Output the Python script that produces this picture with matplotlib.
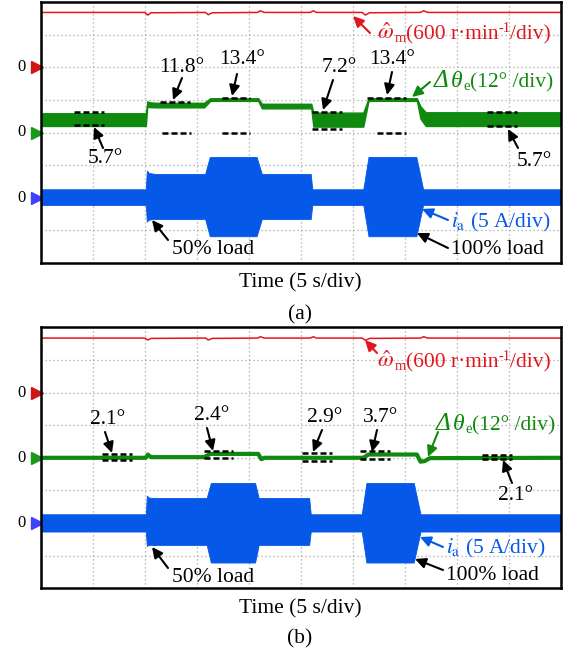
import matplotlib
matplotlib.use('Agg')
import matplotlib.pyplot as plt
from matplotlib.patches import FancyArrowPatch

W, H = 566, 651
plt.rcParams['font.family'] = ['Liberation Serif', 'DejaVu Serif']
plt.rcParams['mathtext.fontset'] = 'stix'

# ---------------- data (oscilloscope divisions) ----------------
# panel (a): speed estimate (red)
wa_t = [0, 2.00, 2.06, 2.12, 3.17, 3.22, 3.30, 4.17, 4.22, 4.30, 5.18, 5.24, 5.30, 6.18, 6.24, 6.32, 7.30, 7.36, 7.44, 10]
wa_y = [7.68, 7.68, 7.60, 7.67, 7.68, 7.61, 7.67, 7.68, 7.73, 7.68, 7.68, 7.73, 7.68, 7.68, 7.60, 7.67, 7.68, 7.73, 7.68, 7.68]
# panel (a): angle error envelope (green)
ga_t  = [0.00, 2.02, 2.05, 2.08, 2.20, 3.14, 3.26, 4.18, 4.25, 5.20, 5.24, 6.20, 6.30, 7.23, 7.30, 7.40, 10.0]
ga_hi = [4.59, 4.59, 4.96, 4.93, 4.91, 4.91, 5.05, 5.05, 4.88, 4.88, 4.61, 4.61, 5.05, 5.05, 4.80, 4.62, 4.62]
ga_lo = [4.20, 4.20, 4.80, 4.78, 4.77, 4.77, 4.97, 4.97, 4.74, 4.74, 4.18, 4.18, 4.97, 4.97, 4.42, 4.20, 4.20]
# panel (a): phase current envelope (blue)
ia_t  = [0, 2.02, 2.04, 2.08, 2.20, 3.16, 3.25, 4.15, 4.25, 5.19, 5.22, 6.20, 6.30, 7.22, 7.35, 10]
ia_hi = [2.26, 2.26, 2.83, 2.76, 2.73, 2.73, 3.25, 3.25, 2.73, 2.73, 2.26, 2.26, 3.25, 3.25, 2.26, 2.26]
ia_lo = [1.78, 1.78, 1.27, 1.33, 1.35, 1.35, 0.82, 0.82, 1.35, 1.35, 1.78, 1.78, 0.82, 0.82, 1.78, 1.78]

# panel (b)
wb_t = [0, 2.00, 2.06, 2.12, 3.17, 3.22, 3.30, 4.17, 4.22, 4.30, 5.18, 5.24, 5.30, 6.18, 6.24, 6.32, 7.30, 7.36, 7.44, 10]
wb_y = [7.67, 7.67, 7.61, 7.66, 7.67, 7.61, 7.66, 7.67, 7.71, 7.67, 7.67, 7.71, 7.67, 7.67, 7.60, 7.66, 7.67, 7.71, 7.67, 7.67]
gb_t = [0, 2.02, 2.06, 2.12, 3.14, 3.26, 4.18, 4.24, 4.30, 5.20, 6.20, 6.30, 7.23, 7.30, 7.38, 7.48, 10]
gb_y = [4.00, 4.00, 4.10, 4.02, 4.02, 4.12, 4.12, 3.96, 4.00, 4.00, 4.00, 4.10, 4.10, 3.88, 3.90, 3.99, 4.00]
ib_t  = [0, 2.02, 2.04, 2.08, 2.20, 3.19, 3.27, 4.12, 4.19, 5.16, 5.19, 6.17, 6.26, 7.17, 7.30, 10]
ib_hi = [2.27, 2.27, 2.84, 2.78, 2.77, 2.77, 3.23, 3.23, 2.77, 2.77, 2.27, 2.27, 3.23, 3.23, 2.27, 2.27]
ib_lo = [1.74, 1.74, 1.30, 1.33, 1.33, 1.33, 0.79, 0.79, 1.33, 1.33, 1.74, 1.74, 0.79, 0.79, 1.74, 1.74]

# dashed level markers (x0, x1, y) in divisions
marks_a = [(0.64, 1.22, 4.63), (0.64, 1.22, 4.22), (2.29, 2.87, 4.93), (2.33, 2.89, 4.00),
           (3.49, 4.02, 5.05), (3.49, 4.02, 4.00), (5.21, 5.79, 4.64), (5.21, 5.79, 4.11),
           (6.27, 7.03, 5.05), (6.46, 7.03, 4.00), (8.57, 9.15, 4.64), (8.57, 9.15, 4.20)]
marks_b = [(1.17, 1.75, 4.13), (1.17, 1.75, 3.92), (3.14, 3.70, 4.20), (3.14, 3.70, 3.98),
           (5.02, 5.59, 4.16), (5.02, 5.59, 3.91), (6.14, 6.71, 4.20), (6.14, 6.71, 3.95),
           (8.48, 9.05, 4.08), (8.48, 9.05, 3.95)]

RED = '#e3161c'
GREEN = '#0f8a0f'
BLUE = '#0558e8'

fig = plt.figure(figsize=(W / 100, H / 100), dpi=100)
renderer = fig.canvas.get_renderer()


def P(x, y):
    return (x / W, 1 - y / H)


def setup(ax):
    ax.set_xlim(0, 10)
    ax.set_ylim(0, 8)
    ax.set_xticks(range(1, 10))
    ax.set_yticks(range(1, 8))
    ax.tick_params(length=0, labelbottom=False, labelleft=False)
    ax.grid(True, color='#a8a8a8', linestyle=(0, (1, 2.2)), linewidth=0.9)
    for s in ax.spines.values():
        s.set_linewidth(1.8)
        s.set_zorder(10)
    for y, c in [(6, '#d01515'), (4, '#1a9a1a'), (2, '#4040ff')]:
        ax.plot([-0.08], [y], marker='>', markersize=8, color=c, clip_on=False)
        ax.text(-0.365, y, '0', fontsize=12, ha='center', va='center')


def panel(ax, wt, wy, gfill, gline, it, ihi, ilo, marks):
    setup(ax)
    ax.fill_between(it, ihi, ilo, color=BLUE, lw=0.6, zorder=3)
    if gfill is not None:
        t, hi, lo = gfill
        ax.fill_between(t, hi, lo, color=GREEN, lw=1.0, edgecolor=GREEN, zorder=4)
    if gline is not None:
        t, y = gline
        ax.plot(t, y, color=GREEN, lw=3.0, zorder=4, solid_capstyle='butt')
    ax.plot(wt, wy, color=RED, lw=1.1, zorder=4)
    for x0, x1, y in marks:
        ax.plot([x0, x1], [y, y], color='k', lw=1.8, linestyle=(0, (2.4, 1.2)), zorder=6)


axa = fig.add_axes([40.7 / W, 1 - 263 / H, 520.3 / W, 261 / H])
panel(axa, wa_t, wa_y, (ga_t, ga_hi, ga_lo), None, ia_t, ia_hi, ia_lo, marks_a)
axb = fig.add_axes([40.7 / W, 1 - 588.3 / H, 520.3 / W, 261 / H])
panel(axb, wb_t, wb_y, None, (gb_t, gb_y), ib_t, ib_hi, ib_lo, marks_b)

FS = 15.5


def txt(x, y, s, color='k', ha='center', fs=FS):
    fig.text(*P(x, y), s, color=color, ha=ha, va='center', fontsize=fs)


def rich(x, y_base, pieces, color):
    # pieces: (text, fontsize, style, dy_px, extra_gap_px)
    for s, fs, style, dy, gap in pieces:
        t = fig.text(*P(x, y_base + dy), s, color=color, ha='left', va='baseline',
                     fontsize=fs, fontstyle=style)
        bb = t.get_window_extent(renderer)
        x += bb.width + gap


def arrow(tail, tip, color='k'):
    a = FancyArrowPatch(P(*tail), P(*tip), transform=fig.transFigure,
                        arrowstyle='-|>,head_length=0.45,head_width=0.22',
                        mutation_scale=14, lw=1.5, color=color,
                        shrinkA=0, shrinkB=0, zorder=12)
    fig.add_artist(a)


def red_label(x, yb):
    rich(x, yb, [(r'$\hat{\omega}$', 16.5, 'normal', 0, 0.5),
                 ('m', 10.5, 'normal', 3, 0),
                 ('(600 r·min', FS, 'normal', 0, 0),
                 ('-1', 10.5, 'normal', -7, 0),
                 ('/div)', FS, 'normal', 0, 0)], RED)


def green_label(x, yb):
    rich(x, yb, [('Δ', 18, 'italic', 0, 2.5), ('θ', 17, 'italic', 0, 1),
                 ('e', 10.5, 'normal', 3, 0), ('(12° /div)', FS, 'normal', 0, 0)], GREEN)


blu_lbl = r'$i_{\mathrm{a}}$ (5 A/div)'

# ---- panel (a) annotations ----
red_label(377, 39)
arrow((370, 33), (353, 16), RED)
green_label(434, 87)
arrow((430, 82), (412, 97), GREEN)
txt(451, 222, blu_lbl, BLUE, ha='left')
arrow((448, 220), (422, 209), BLUE)
for s, tx, ty, tail, tip in [('11.8°', 182, 67, (182, 78), (173, 100)),
                             ('13.4°', 242, 60, (237, 74), (232, 96)),
                             ('7.2°', 339, 68, (333, 80), (323, 110)),
                             ('13.4°', 392, 60, (392, 72), (387, 95)),
                             ('5.7°', 105, 159, (103, 148), (94, 127)),
                             ('5.7°', 534, 162, (518, 148), (508, 129)),
                             ('50% load', 213, 249, (168, 240), (152, 220)),
                             ('100% load', 497, 249, (448, 248), (417, 233))]:
    txt(tx, ty, s)
    arrow(tail, tip)
txt(300, 283, 'Time (5 s/div)')
txt(300, 315, '(a)')

# ---- panel (b) annotations ----
red_label(377, 367)
arrow((377, 353), (365, 340), RED)
green_label(436, 430)
arrow((438, 432), (428, 457), GREEN)
txt(446, 548, blu_lbl, BLUE, ha='left')
arrow((443, 547), (420, 537), BLUE)
for s, tx, ty, tail, tip in [('2.1°', 108, 420, (105, 432), (112, 453)),
                             ('2.4°', 212, 415, (207, 428), (213, 451)),
                             ('2.9°', 325, 417, (322, 430), (313, 452)),
                             ('3.7°', 381, 417, (377, 430), (372, 452)),
                             ('2.1°', 516, 495, (512, 483), (503, 460)),
                             ('50% load', 213, 577, (168, 568), (152, 547)),
                             ('100% load', 492, 575, (443, 570), (415, 559))]:
    txt(tx, ty, s)
    arrow(tail, tip)
txt(300, 609, 'Time (5 s/div)')
txt(300, 639, '(b)')

fig.savefig('out.png', dpi=100)
